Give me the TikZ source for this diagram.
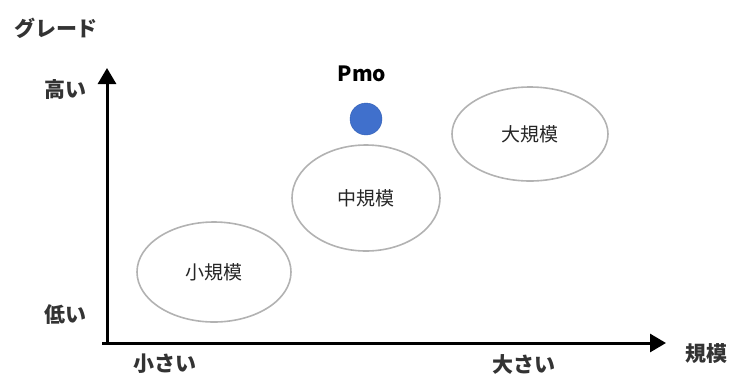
\documentclass[tikz,border=0pt]{standalone}
\usepackage{fontspec}
\setmainfont{Noto Sans CJK JP}
\usetikzlibrary{arrows.meta,shapes.geometric}
\begin{document}
\begin{tikzpicture}[x=1pt,y=-1pt,
  axis/.style={line width=3pt,-{Triangle[length=16pt,width=18pt]}},
  alabel/.style={font=\fontsize{21}{21}\selectfont\bfseries, text=black!80, inner sep=0pt},
  blob/.style={ellipse, draw=black!30, line width=1.6pt, inner sep=0pt, font=\fontsize{19}{19}\selectfont, text=black!85}]
\useasboundingbox (0,0) rectangle (734,376);
\coordinate (O) at (107,343);
\coordinate (yt) at (107,68);
\coordinate (xt) at (666,343);
\coordinate (xs) at (102,343);
\draw[axis] (O) -- (yt);
\draw[axis] (xs) -- (xt);
\node[alabel] (grade) at (56,28) {グレード};
\node[alabel] (hi) at (65,90) {高い};
\node[alabel] (lo) at (65,315) {低い};
\node[alabel] (small) at (165,364) {小さい};
\node[alabel] (large) at (524,364) {大さい};
\node[alabel] (scale) at (706,354) {規模};
\node[blob, minimum width=154pt, minimum height=100pt] (s) at (214,272) {小規模};
\node[blob, minimum width=148pt, minimum height=106pt] (m) at (366,198) {中規模};
\node[blob, minimum width=156pt, minimum height=94pt] (l) at (530,134) {大規模};
\node[circle, fill={rgb,255:red,64;green,112;blue,204}, draw={rgb,255:red,50;green,95;blue,180}, minimum size=32pt, inner sep=0pt] (dot) at (366,119) {};
\node[font=\fontsize{21}{21}\selectfont\bfseries, inner sep=0pt] (pmo) at (362,74) {Pmo};
\end{tikzpicture}
\end{document}
